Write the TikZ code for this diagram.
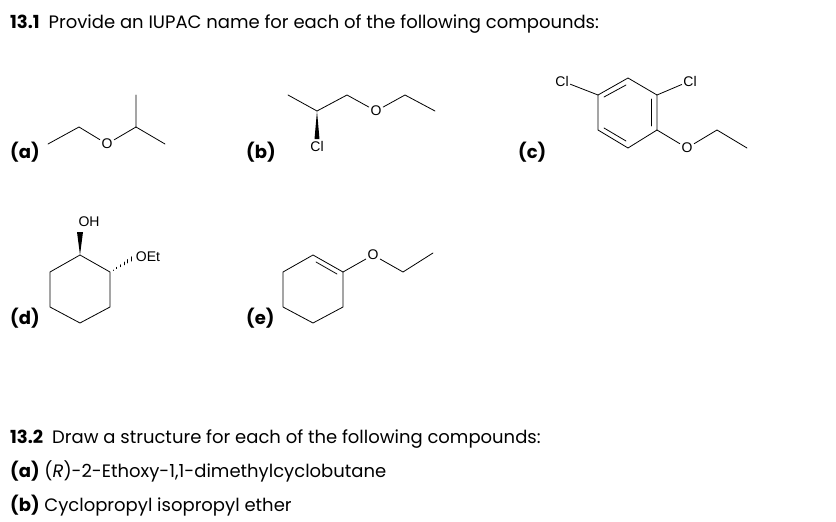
\documentclass[tikz,border=0pt]{standalone}
\usepackage{fontspec}
\setmainfont{Poppins}
\newfontfamily\atomfont{Liberation Sans}
\usetikzlibrary{positioning,calc}
\begin{document}
\begin{tikzpicture}[x=1pt,y=-1pt, line join=round, line cap=round,
    bond/.style={line width=0.8pt},
    atom/.style={font=\atomfont\fontsize{14}{14}\selectfont, inner sep=1.5pt},
    lbl/.style={font=\fontsize{18}{20}\selectfont\bfseries, anchor=base west},
    txt/.style={font=\fontsize{18}{20}\selectfont, anchor=base west, inner sep=0pt}]
  \useasboundingbox (0,0) rectangle (836,522);

  % headings
  \node[txt] (h1) at (10,28) {\textbf{13.1}\enspace Provide an IUPAC name for each of the following compounds:};
  \node[txt] (h2) at (10,443) {\textbf{13.2}\enspace Draw a structure for each of the following compounds:};
  \node[txt] (q1) at (10,477) {\textbf{(a)} (\textit{R})-2-Ethoxy-1,1-dimethylcyclobutane};
  \node[txt] (q2) at (10,511) {\textbf{(b)} Cyclopropyl isopropyl ether};

  % part labels
  \node[lbl, inner sep=0pt] (la) at (10,158) {(a)};
  \node[lbl, inner sep=0pt] (lb) at (246,158) {(b)};
  \node[lbl, inner sep=0pt] (lc) at (518,158) {(c)};
  \node[lbl, inner sep=0pt] (ld) at (10,324) {(d)};
  \node[lbl, inner sep=0pt] (le) at (246,324) {(e)};

  % (a)
  \coordinate (a1) at (48,144);
  \coordinate (a2) at (79,127);
  \node[atom] (aO) at (107,144) {O};
  \coordinate (a3) at (136,127);
  \coordinate (a4) at (136,95);
  \coordinate (a5) at (165,144);
  \draw[bond] (a1) -- (a2) -- (aO) -- (a3) -- (a4);
  \draw[bond] (a3) -- (a5);

  % (b)
  \coordinate (b1) at (288,95);
  \coordinate (b2) at (317,111);
  \node[atom] (bCl) at (317,146) {Cl};
  \coordinate (b3) at (347,95);
  \node[atom] (bO) at (376,111) {O};
  \coordinate (b4) at (405,95);
  \coordinate (b5) at (435,111);
  \draw[bond] (b1) -- (b2) -- (b3) -- (bO) -- (b4) -- (b5);
  \fill (b2) -- ([xshift=-2.5pt]bCl.north) -- ([xshift=2.5pt]bCl.north) -- cycle;

  % (c)
  \coordinate (c1) at (628,78);
  \coordinate (c2) at (657,95);
  \coordinate (c3) at (657,130);
  \coordinate (c4) at (628,148);
  \coordinate (c5) at (598,130);
  \coordinate (c6) at (598,95);
  \draw[bond] (c1) -- (c2) -- (c3) -- (c4) -- (c5) -- (c6) -- cycle;
  \node[atom] (cCl1) at (562,81) {Cl};
  \node[atom] (cCl2) at (690,81) {Cl};
  \node[atom] (cO) at (687,148) {O};
  \coordinate (c7) at (717,130);
  \coordinate (c8) at (747,148);
  \draw[bond] (c6) -- (cCl1);
  \draw[bond] (c2) -- (cCl2);
  \draw[bond] (c3) -- (cO) -- (c7) -- (c8);
  \draw[bond] (604,97) -- (626,85);
  \draw[bond] (651,99) -- (651,126);
  \draw[bond] (604,128) -- (626,141);

  % (d)
  \coordinate (d1) at (80,255);
  \coordinate (d2) at (110,272);
  \coordinate (d3) at (110,307);
  \coordinate (d4) at (80,323);
  \coordinate (d5) at (50,307);
  \coordinate (d6) at (50,272);
  \draw[bond] (d1) -- (d2) -- (d3) -- (d4) -- (d5) -- (d6) -- cycle;
  \node[atom] (dOH) at (89,222) {OH};
  \node[atom] (dOEt) at (148,257) {OEt};
  \fill (d1) -- (77,232) -- (83,232) -- cycle;
  \foreach \t in {0.12,0.27,...,0.95}
    \draw[line width=0.6pt] ($(d2)!\t!(dOEt.west)+(0,-2.5*\t)$) -- ($(d2)!\t!(dOEt.west)+(0,2.5*\t)$);

  % (e)
  \coordinate (e1) at (313,255);
  \coordinate (e2) at (343,272);
  \coordinate (e3) at (343,307);
  \coordinate (e4) at (313,323);
  \coordinate (e5) at (283,307);
  \coordinate (e6) at (283,272);
  \draw[bond] (e1) -- (e2) -- (e3) -- (e4) -- (e5) -- (e6) -- cycle;
  \draw[bond] (316,262) -- (337,274);
  \node[atom] (eO) at (373,255) {O};
  \coordinate (e7) at (403,272);
  \coordinate (e8) at (433,253);
  \draw[bond] (e2) -- (eO) -- (e7) -- (e8);
\end{tikzpicture}
\end{document}
